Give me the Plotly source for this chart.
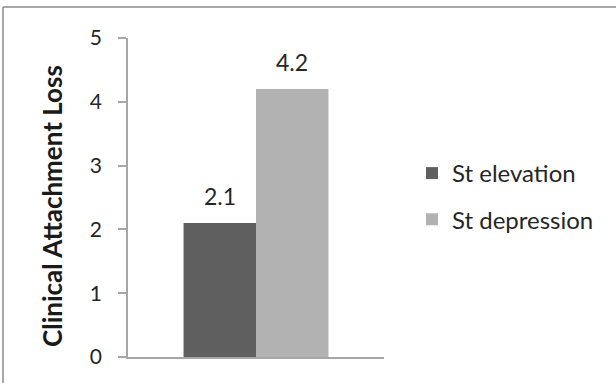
import plotly.graph_objects as go

# Chart data
categories = [""]
series_names = ["St elevation", "St depression"]
series_values = [[2.1], [4.2]]
series_colors = ["#5f5f5f", "#b2b2b2"]
y_ticks = [0, 1, 2, 3, 4, 5]
y_title = "Clinical Attachment Loss"

W, H = 616, 383
ML, MR, MT, MB = 128, 232, 38, 26
plot_w = W - ML - MR
plot_h = H - MT - MB

FONT = "Lato, Open Sans, sans-serif"
TXT = "#262626"

fig = go.Figure()
for name, vals, col in zip(series_names, series_values, series_colors):
    fig.add_trace(go.Bar(
        x=categories, y=vals, name=name, legendgroup=name,
        marker=dict(color=col, line=dict(width=0)),
    ))

# value labels above each bar
bargap = 0.434
bar_px = plot_w * (1 - bargap) / len(series_names)
for i, vals in enumerate(series_values):
    shift = (i - (len(series_names) - 1) / 2) * bar_px
    for c, v in zip(categories, vals):
        fig.add_annotation(
            x=c, y=v, text=f"{v}", showarrow=False,
            xshift=shift, yshift=11, yanchor="bottom",
            font=dict(family=FONT, size=23, color=TXT),
        )

def px_to_paper_x(px):
    return (px - ML) / plot_w

def px_to_paper_y(py):
    return (H - MB - py) / plot_h

# rotated y-axis title
fig.add_annotation(
    xref="paper", yref="paper",
    x=px_to_paper_x(52), y=px_to_paper_y(206),
    xanchor="center", yanchor="middle", textangle=-90,
    text=f"<b>{y_title}</b>", showarrow=False,
    font=dict(family=FONT, size=26, color="#1a1a1a"),
)

# frame lines (top and left edges of the chart area)
frame = dict(color="#8a8a8a", width=1.5)
fig.add_shape(type="line", xref="paper", yref="paper",
              x0=px_to_paper_x(3), x1=px_to_paper_x(W + 5),
              y0=px_to_paper_y(7), y1=px_to_paper_y(7), line=frame)
fig.add_shape(type="line", xref="paper", yref="paper",
              x0=px_to_paper_x(3), x1=px_to_paper_x(3),
              y0=px_to_paper_y(7), y1=px_to_paper_y(H + 5), line=frame)

fig.update_layout(
    width=W, height=H,
    margin=dict(l=ML, r=MR, t=MT, b=MB),
    paper_bgcolor="white", plot_bgcolor="white",
    barmode="group", bargap=bargap, bargroupgap=0,
    font=dict(family=FONT, size=23, color=TXT),
    showlegend=True,
    legend=dict(
        x=px_to_paper_x(412), y=px_to_paper_y(151),
        xanchor="left", yanchor="top",
        font=dict(family=FONT, size=24, color=TXT),
        tracegroupgap=12, traceorder="grouped",
        itemwidth=30, bgcolor="rgba(0,0,0,0)",
    ),
    xaxis=dict(
        showline=True, linecolor="#a6a6a6", linewidth=1.5,
        showticklabels=False, ticks="", showgrid=False,
        range=[-0.5, 0.5], fixedrange=True,
    ),
    yaxis=dict(
        range=[0, 5], tickvals=y_ticks, ticktext=[str(t) for t in y_ticks],
        showline=True, linecolor="#a6a6a6", linewidth=1.5,
        ticks="outside", ticklen=8, tickcolor="#a6a6a6", tickwidth=1.5,
        ticklabelstandoff=12,
        showgrid=False, zeroline=False,
        tickfont=dict(family=FONT, size=21, color=TXT),
    ),
)

fig.write_html("out.html")
